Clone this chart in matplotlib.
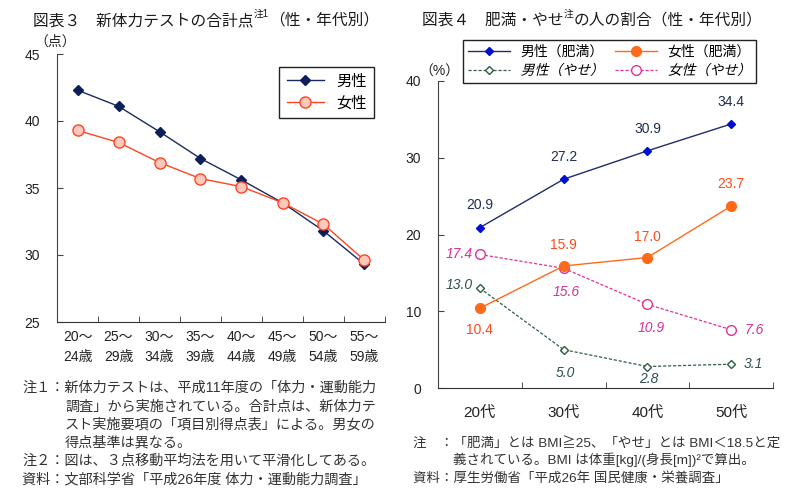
import matplotlib
matplotlib.use('Agg')
import matplotlib.pyplot as plt
from matplotlib.patheffects import AbstractPathEffect
from matplotlib.transforms import Affine2D

plt.rcParams['font.family'] = ['Liberation Sans', 'Noto Sans CJK JP']

# 図表3 data
ages = ['20～\n24歳', '25～\n29歳', '30～\n34歳', '35～\n39歳',
        '40～\n44歳', '45～\n49歳', '50～\n54歳', '55～\n59歳']
male_score = [42.3, 41.1, 39.2, 37.2, 35.6, 33.9, 31.8, 29.3]
female_score = [39.3, 38.4, 36.9, 35.7, 35.1, 33.9, 32.3, 29.6]

# 図表4 data
decades = ['20代', '30代', '40代', '50代']
male_obese = [20.9, 27.2, 30.9, 34.4]
female_obese = [10.4, 15.9, 17.0, 23.7]
male_thin = [13.0, 5.0, 2.8, 3.1]
female_thin = [17.4, 15.6, 10.9, 7.6]

W, H = 798, 497
fig = plt.figure(figsize=(W / 100, H / 100), dpi=100)


class Slant(AbstractPathEffect):
    # fake italic for CJK glyphs (no italic face installed)
    def draw_path(self, renderer, gc, tpath, affine, rgbFace=None):
        renderer.draw_path(gc, tpath, Affine2D().skew_deg(14, 0) + affine, rgbFace)


def box(x0, y0, x1, y1):
    return [x0 / W, 1 - y1 / H, (x1 - x0) / W, (y1 - y0) / H]


def ftext(x, y, s, **kw):
    return fig.text(x / W, 1 - y / H, s, **kw)


def pieces(x, y, parts):
    r = fig.canvas.get_renderer()
    for s, size, dy in parts:
        t = ftext(x, y + dy, s, fontsize=size, va='baseline', ha='left', color='#1a1a1a')
        x += t.get_window_extent(r).width


def style_axes(ax, n):
    for side in ['top', 'right']:
        ax.spines[side].set_visible(False)
    ax.spines['left'].set_color('#444444')
    ax.spines['bottom'].set_color('#333333')
    ax.set_xlim(-0.5, n - 0.5)
    ax.set_xticks(range(n))
    ax.set_xticks([i - 0.5 for i in range(n + 1)], minor=True)
    ax.tick_params(axis='x', which='major', length=0)
    ax.tick_params(axis='x', which='minor', direction='in', length=4, color='#333333')
    ax.tick_params(axis='y', direction='in', length=4, pad=12, color='#444444',
                   labelsize=10, labelcolor='#222222')


# ---------- 図表3 ----------
ax1 = fig.add_axes(box(57, 54, 385, 322))
x1 = range(len(ages))
ax1.plot(x1, male_score, color='#1a2a60', lw=1.0, marker='D', ms=5.5,
         mfc='#0d1f5a', mec='#0d1f5a', label='男性', zorder=3)
ax1.plot(x1, female_score, color='#ff4422', lw=1.0, marker='o', ms=8,
         mfc='#ffc8bd', mec='#ff4422', mew=1.0, label='女性', zorder=4)
style_axes(ax1, len(ages))
ax1.set_ylim(25, 45)
ax1.set_yticks([25, 30, 35, 40, 45])
ax1.set_xticklabels(ages, fontsize=10, linespacing=1.55, color='#222222')
ax1.tick_params(axis='x', which='major', pad=6)
leg1 = ax1.legend(loc='upper right', bbox_to_anchor=(374 / W, 1 - 67 / H),
                  bbox_transform=fig.transFigure, fancybox=False, edgecolor='#222222',
                  framealpha=1, fontsize=11, handlelength=2.4, borderaxespad=0,
                  labelspacing=0.5, borderpad=0.5)
leg1.get_frame().set_linewidth(1.0)

# ---------- 図表4 ----------
ax2 = fig.add_axes(box(438, 81, 773, 388))
x2 = range(len(decades))
l_mo, = ax2.plot(x2, male_obese, color='#1f2d6b', lw=1.0, marker='D', ms=4.5,
                 mfc='#0010d0', mec='#0010d0', label='男性（肥満）', zorder=4)
l_fo, = ax2.plot(x2, female_obese, color='#ff6a1a', lw=1.0, marker='o', ms=7,
                 mfc='#ff6a1a', mec='#ff6a1a', label='女性（肥満）', zorder=4)
l_mt, = ax2.plot(x2, male_thin, color='#2e5e40', lw=0.9, ls=(0, (2.5, 1.5)), marker='D',
                 ms=4.5, mfc='white', mec='#2e5e40', mew=1.0, label='男性（やせ）', zorder=3)
l_ft, = ax2.plot(x2, female_thin, color='#e0309a', lw=0.9, ls=(0, (2.5, 1.5)), marker='o',
                 ms=7, mfc='white', mec='#e0309a', mew=1.0, label='女性（やせ）', zorder=3)
style_axes(ax2, len(decades))
ax2.set_ylim(0, 40)
ax2.set_yticks([0, 10, 20, 30, 40])
ax2.set_xticklabels(decades, fontsize=11, color='#222222')
ax2.tick_params(axis='x', which='major', pad=13)
ax2.tick_params(axis='y', labelsize=10)

leg2 = ax2.legend([l_mo, l_mt, l_fo, l_ft], ['男性（肥満）', '男性（やせ）', '女性（肥満）', '女性（やせ）'],
                  loc='upper left', bbox_to_anchor=(463 / W, 1 - 40 / H),
                  bbox_transform=fig.transFigure, ncol=2, fancybox=False,
                  edgecolor='#222222', framealpha=1, fontsize=10, handlelength=3.0,
                  borderaxespad=0, columnspacing=0.8, labelspacing=0.35, borderpad=0.35)
leg2.get_frame().set_linewidth(1.0)
for i in (1, 3):
    leg2.get_texts()[i].set_path_effects([Slant()])

# data labels (offsets in points)
lab_kw = dict(textcoords='offset points', fontsize=10, va='center')
for i, v in enumerate(male_obese):
    ax2.annotate(f'{v:.1f}', (i, v), xytext=(0, 16), ha='center', color='#1f2d50', **lab_kw)
fo_off = [(0, -16), (0, 15), (0, 15), (0, 16)]
for i, v in enumerate(female_obese):
    ax2.annotate(f'{v:.1f}', (i, v), xytext=fo_off[i], ha='center', color='#ff4a1a', **lab_kw)
mt_off = [(-5, 2, 'right'), (1, -17, 'center'), (1, -9, 'center'), (9, 0, 'left')]
for i, v in enumerate(male_thin):
    dx, dy, ha = mt_off[i]
    ax2.annotate(f'{v:.1f}', (i, v), xytext=(dx, dy), ha=ha, color='#2f4f4f',
                 style='italic', **lab_kw)
ft_off = [(-5, 0, 'right'), (2, -17, 'center'), (3, -17, 'center'), (10, 0, 'left')]
for i, v in enumerate(female_thin):
    dx, dy, ha = ft_off[i]
    ax2.annotate(f'{v:.1f}', (i, v), xytext=(dx, dy), ha=ha, color='#d8309a',
                 style='italic', **lab_kw)

# ---------- titles and units ----------
pieces(33, 25, [('図表３　新体力テストの合計点', 11.3, 0), ('注1', 7, -8), ('（性・年代別）', 11.3, 0)])
pieces(422, 25, [('図表４　肥満・やせ', 11.3, 0), ('注', 7, -8), ('の人の割合（性・年代別）', 11.3, 0)])
ftext(55, 42, '（点）', fontsize=10, ha='center', va='center', color='#222222')
ftext(439, 72, '（%）', fontsize=10, ha='center', va='center', color='#222222')

# ---------- notes ----------
nkw = dict(fontsize=10.2, va='center', ha='left', color='#333333')
ftext(22, 388, '注１：新体力テストは、平成11年度の「体力・運動能力', **nkw)
ftext(65, 407, '調査」から実施されている。合計点は、新体力テ', **nkw)
ftext(65, 424, 'スト実施要項の「項目別得点表」による。男女の', **nkw)
ftext(65, 442, '得点基準は異なる。', **nkw)
ftext(22, 461, '注２：図は、３点移動平均法を用いて平滑化してある。', **nkw)
ftext(22, 479, '資料：文部科学省「平成26年度 体力・運動能力調査」', **nkw)

rkw = dict(nkw, fontsize=9.7)
ftext(413, 443, '注　：「肥満」とは BMI≧25、「やせ」とは BMI＜18.5と定', **rkw)
ftext(453, 460, '義されている。BMI は体重[kg]/(身長[m])²で算出。', **rkw)
ftext(413, 479, '資料：厚生労働省「平成26年 国民健康・栄養調査」', **rkw)

fig.savefig('out.png', dpi=100)
